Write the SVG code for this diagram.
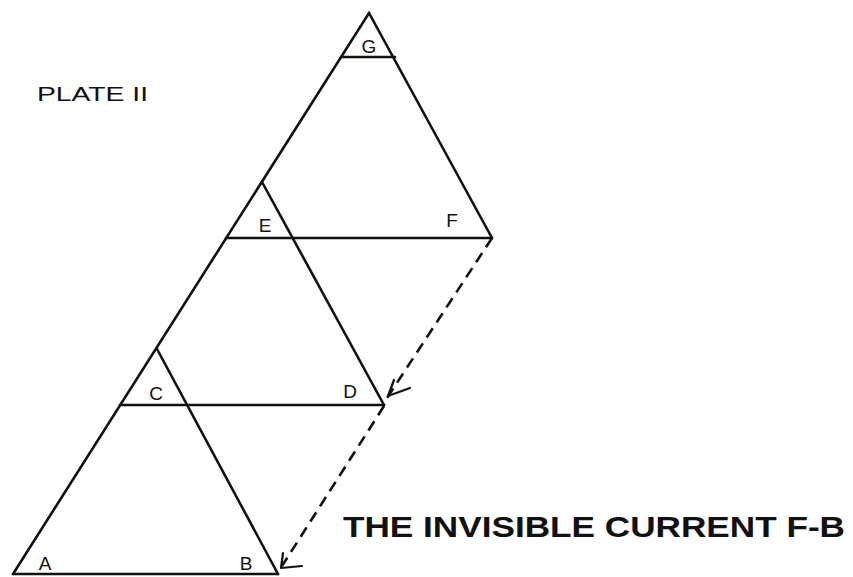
<svg xmlns="http://www.w3.org/2000/svg" width="853" height="577" viewBox="0 0 853 577">
<style>
.ln{stroke:#111;stroke-width:2.6;fill:none;stroke-linecap:round}
.dash{stroke:#111;stroke-width:2.6;fill:none;stroke-dasharray:11 7}
.arr{stroke:#111;stroke-width:2.2;fill:none;stroke-linecap:round;stroke-linejoin:round}
.lbl{font-family:"Liberation Sans",Arial,sans-serif;font-size:19px;fill:#111;text-anchor:middle}
</style>
<rect width="853" height="577" fill="#fff"/>
<g id="connectors">
<path class="dash" d="M492,238 L387,398"/>
<path class="dash" d="M384,406 L282,566"/>
<path class="arr" d="M394,380 L388,396 L410,388"/>
<path class="arr" d="M283,553 L281,568 L302,566"/>
</g>
<g id="triangle-G">
<path class="ln" d="M13,574 L369,13 L492,238"/>
<path class="ln" d="M341,57 L395,57"/>
<text class="lbl" x="369" y="53">G</text>
</g>
<g id="triangle-EF">
<path class="ln" d="M226,238 L492,238"/>
<path class="ln" d="M262,182 L384,405"/>
<text class="lbl" x="265" y="232">E</text>
<text class="lbl" x="452" y="227">F</text>
</g>
<g id="triangle-CD">
<path class="ln" d="M120,405 L384,405"/>
<path class="ln" d="M157,349 L278,574"/>
<text class="lbl" x="156" y="400">C</text>
<text class="lbl" x="350" y="398">D</text>
</g>
<g id="triangle-AB">
<path class="ln" d="M13,574 L278,574"/>
<text class="lbl" x="45" y="570">A</text>
<text class="lbl" x="246" y="570">B</text>
</g>
<text x="37" y="101" font-family="'Liberation Sans Narrow','Liberation Sans',Arial,sans-serif" font-size="21" fill="#111" textLength="111" lengthAdjust="spacingAndGlyphs">PLATE II</text>
<text x="343" y="537" font-family="'Liberation Sans',Arial,sans-serif" font-weight="bold" font-size="30" fill="#111" textLength="502" lengthAdjust="spacingAndGlyphs">THE INVISIBLE CURRENT F-B</text>
</svg>
